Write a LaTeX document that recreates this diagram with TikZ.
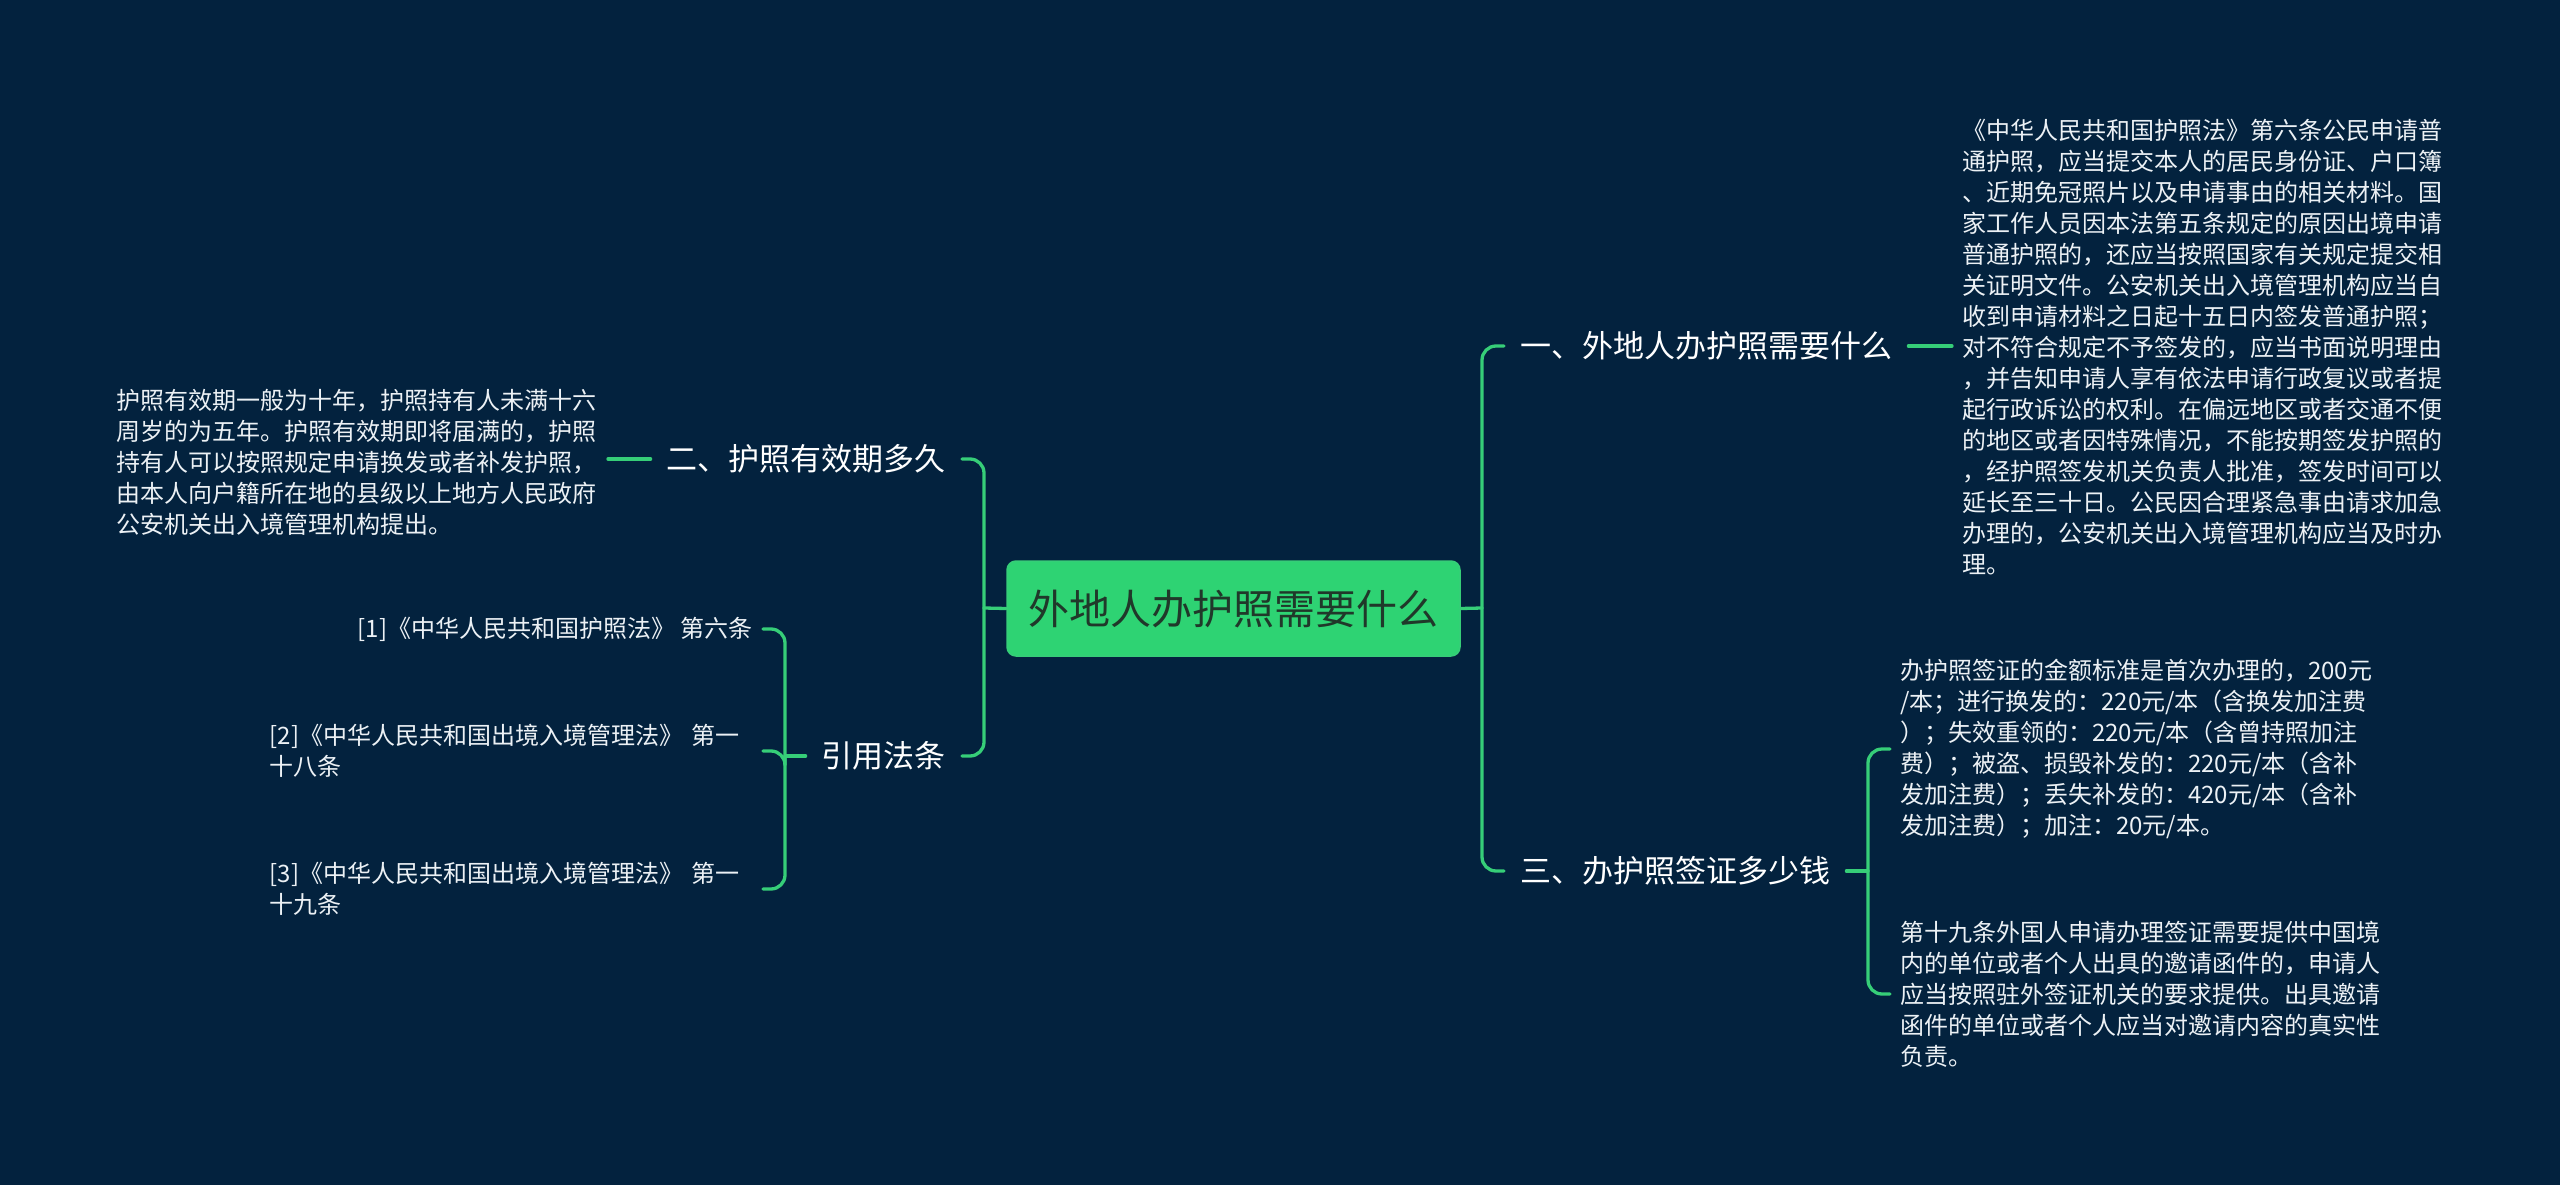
\documentclass[tikz,border=0pt]{standalone}
\usepackage{fontspec}
\setmainfont{Noto Sans CJK SC}
\usetikzlibrary{calc}

\definecolor{bgnavy}{RGB}{3,34,62}
\definecolor{mapgreen}{RGB}{46,211,115}
\definecolor{linegreen}{RGB}{54,206,120}
\definecolor{rootink}{RGB}{32,56,42}
\definecolor{leafink}{RGB}{236,241,245}

\begin{document}
\begin{tikzpicture}[x=1pt, y=-1pt, line cap=round, line join=round,
  root/.style={fill=mapgreen, draw=linegreen, line width=1.5pt, rounded corners=9pt,
    text=rootink, minimum width=453pt, minimum height=95pt, inner sep=0pt,
    font=\fontsize{41}{48}\selectfont},
  branch/.style={text=white, inner xsep=16pt, inner ysep=4pt,
    font=\fontsize{31}{38}\selectfont},
  leaf/.style={text=leafink, inner xsep=10pt, inner ysep=3pt, align=left,
    font=\fontsize{24}{31}\selectfont},
  link/.style={draw=linegreen, line width=3.3pt, rounded corners=14pt}]

  % ===== 画布 =====
  \fill[bgnavy] (0,0) rectangle (2560,1185);
  \useasboundingbox (0,0) rectangle (2560,1185);

  % ===== 参数 =====
  \coordinate (busR) at (1482,608);
  \coordinate (busL) at (984,608);
  \coordinate (sub3) at (1868,871);
  \coordinate (sub4) at (785,756);

  % ===== 中心 =====
  \node[root] (root) at (1233.5,608.5) {外地人办护照需要什么};

  % ===== 分支 =====
  \node[branch, anchor=west] (b1) at (1504,346) {一、外地人办护照需要什么};
  \node[branch, anchor=west] (b3) at (1504,871) {三、办护照签证多少钱};
  \node[branch, anchor=east] (b2) at (962,459) {二、护照有效期多久};
  \node[branch, anchor=east] (b4) at (962,756) {引用法条};

  % ===== 右侧内容 =====
  \node[leaf, anchor=west] (l1) at (1952,347) {%
    《中华人民共和国护照法》第六条公民申请普\\
    通护照，应当提交本人的居民身份证、户口簿\\
    、近期免冠照片以及申请事由的相关材料。国\\
    家工作人员因本法第五条规定的原因出境申请\\
    普通护照的，还应当按照国家有关规定提交相\\
    关证明文件。公安机关出入境管理机构应当自\\
    收到申请材料之日起十五日内签发普通护照；\\
    对不符合规定不予签发的，应当书面说明理由\\
    ，并告知申请人享有依法申请行政复议或者提\\
    起行政诉讼的权利。在偏远地区或者交通不便\\
    的地区或者因特殊情况，不能按期签发护照的\\
    ，经护照签发机关负责人批准，签发时间可以\\
    延长至三十日。公民因合理紧急事由请求加急\\
    办理的，公安机关出入境管理机构应当及时办\\
    理。};

  \node[leaf, anchor=west] (l3a) at (1890,749) {%
    办护照签证的金额标准是首次办理的，200元\\
    /本；进行换发的：220元/本（含换发加注费\\
    ）；失效重领的：220元/本（含曾持照加注\\
    费）；被盗、损毁补发的：220元/本（含补\\
    发加注费）；丢失补发的：420元/本（含补\\
    发加注费）；加注：20元/本。};

  \node[leaf, anchor=west] (l3b) at (1890,994) {%
    第十九条外国人申请办理签证需要提供中国境\\
    内的单位或者个人出具的邀请函件的，申请人\\
    应当按照驻外签证机关的要求提供。出具邀请\\
    函件的单位或者个人应当对邀请内容的真实性\\
    负责。};

  % ===== 左侧内容 =====
  \node[leaf, anchor=east, text width=481pt] (l2) at (608,462) {%
    护照有效期一般为十年，护照持有人未满十六\\
    周岁的为五年。护照有效期即将届满的，护照\\
    持有人可以按照规定申请换发或者补发护照，\\
    由本人向户籍所在地的县级以上地方人民政府\\
    公安机关出入境管理机构提出。};

  \node[leaf, anchor=east] (r1) at (763,629) {[1]《中华人民共和国护照法》 第六条};
  \node[leaf, anchor=east, text width=483pt] (r2) at (763,751) {%
    [2]《中华人民共和国出境入境管理法》~第一\\
    十八条};
  \node[leaf, anchor=east, text width=483pt] (r3) at (763,889) {%
    [3]《中华人民共和国出境入境管理法》~第一\\
    十九条};

  % ===== 连线 =====
  \draw[link] (root.east) -- (busR);
  \draw[link] (busR) |- (b1.west);
  \draw[link] (busR) |- (b3.west);
  \draw[link] (root.west) -- (busL);
  \draw[link] (busL) |- (b2.east);
  \draw[link] (busL) |- (b4.east);

  \draw[link] (b1.east) -- (b1.east -| l1.west);
  \draw[link] (b2.west) -- (b2.west -| l2.east);

  \draw[link] (b3.east) -- (sub3);
  \draw[link] (sub3) |- (l3a.west);
  \draw[link] (sub3) |- (l3b.west);

  \draw[link] (b4.west) -- (sub4);
  \draw[link] (sub4) |- (r1.east);
  \draw[link] (sub4) |- (r2.east);
  \draw[link] (sub4) |- (r3.east);

\end{tikzpicture}
\end{document}
